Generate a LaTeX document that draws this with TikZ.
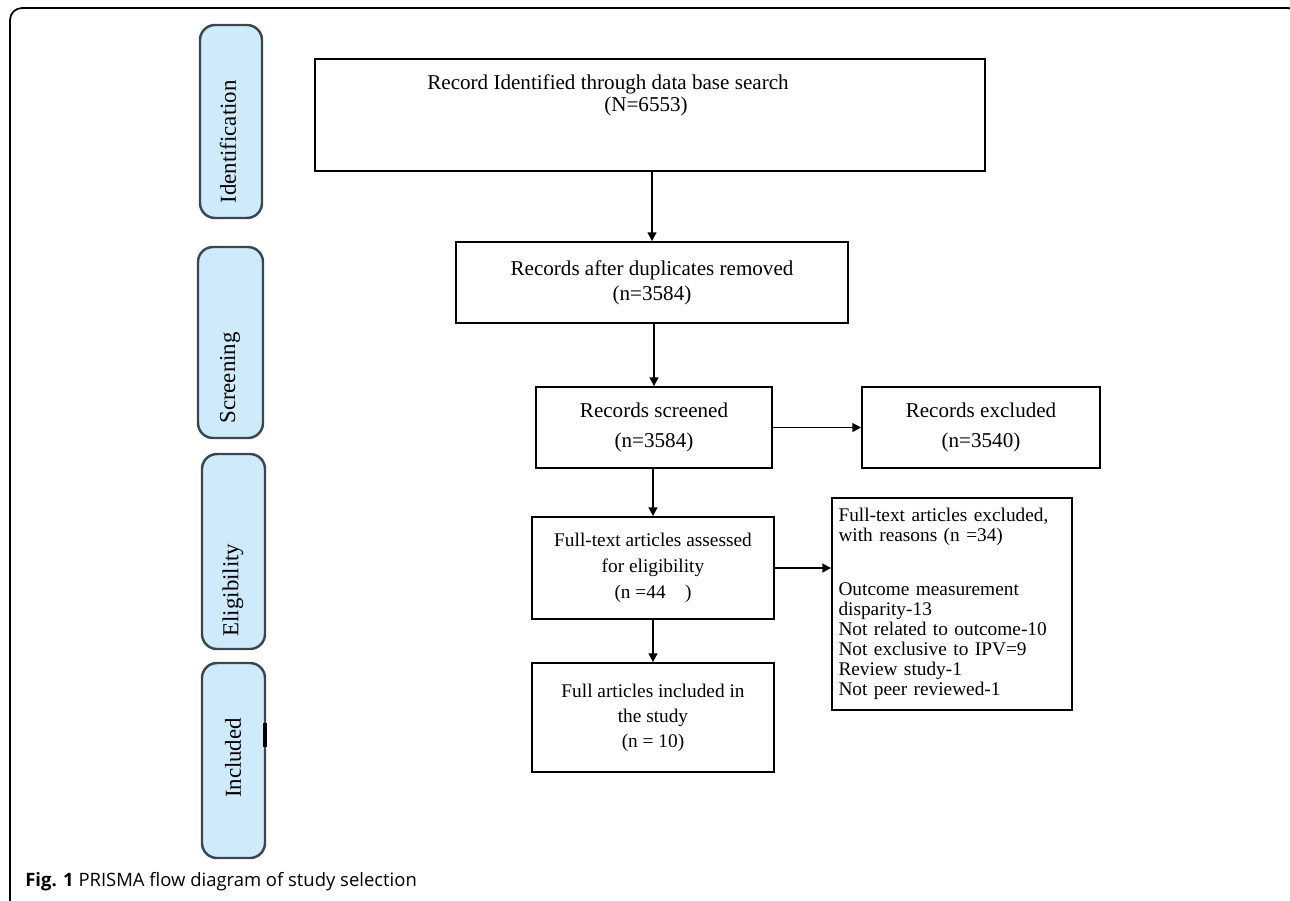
\documentclass[tikz,border=0pt]{standalone}
\usepackage{fontspec}
\setmainfont{Liberation Serif}
\newfontfamily\capfont{Open Sans}
\usetikzlibrary{arrows.meta}

\definecolor{phasefill}{HTML}{CFEAFB}
\definecolor{phaseline}{HTML}{3A4650}

\tikzset{
  phase/.style={draw=phaseline, fill=phasefill, line width=1.4pt, rounded corners=0.3cm, inner sep=0pt},
  phasetext/.style={rotate=90, font=\fontsize{13}{15}\selectfont},
  box/.style={draw, line width=1pt, inner sep=0pt, align=center},
  flow/.style={-{Triangle[length=5pt,width=5pt]}, line width=1pt},
}

\begin{document}
\begin{tikzpicture}
\useasboundingbox (0,0) rectangle (25.8,-18);

% Frame.
\draw[line width=1pt, rounded corners=0.24cm] (0.2,-18.5) -- (0.2,-0.16) -- (26.0,-0.16) -- (26.0,-18.5);

% Phase labels.
\node[phase, minimum width=1.24cm, minimum height=3.86cm] (ident) at (4.62,-2.43) {};
\node[phase, minimum width=1.30cm, minimum height=3.82cm] (screen) at (4.61,-6.85) {};
\node[phase, minimum width=1.26cm, minimum height=3.90cm] (elig) at (4.67,-11.03) {};
\node[phase, minimum width=1.26cm, minimum height=3.90cm] (incl) at (4.67,-15.21) {};

\node[phasetext] (identtxt) at (4.56,-2.84) {Identification};
\node[phasetext] (screentxt) at (4.60,-7.56) {Screening};
\node[phasetext] (eligtxt) at (4.66,-11.80) {Eligibility};
\node[phasetext] (incltxt) at (4.66,-15.16) {Included};

\draw[line width=2pt] (5.30,-14.46) -- (5.30,-14.94);

% Boxes.
\node[box, minimum width=13.4cm, minimum height=2.24cm] (search) at (13.0,-2.3) {};
\node[font=\fontsize{12}{14}\selectfont] (searchA) at (12.16,-1.68) {Record Identified through data base search};
\node[font=\fontsize{12}{14}\selectfont] (searchB) at (12.92,-2.12) {(N=6553)};

\node[box, minimum width=7.84cm, minimum height=1.62cm, font=\fontsize{12}{14.2}\selectfont] (dupl) at (13.04,-5.65)
  {Records after duplicates removed\\(n=3584)};

\node[box, minimum width=4.72cm, minimum height=1.62cm, font=\fontsize{12}{17}\selectfont] (screened) at (13.08,-8.55)
  {Records screened\\(n=3584)};
\node[box, minimum width=4.76cm, minimum height=1.62cm, font=\fontsize{12}{17}\selectfont] (excl) at (19.62,-8.55)
  {Records excluded\\(n=3540)};

\node[box, minimum width=4.84cm, minimum height=2.04cm, font=\fontsize{11}{14.8}\selectfont] (full) at (13.06,-11.36)
  {Full-text articles assessed\\for eligibility\\(n =44\quad)};
\node[box, minimum width=4.80cm, minimum height=4.24cm, text width=4.54cm, align=left,
      font=\fontsize{11}{11.4}\selectfont] (reasons) at (19.04,-12.08)
  {Full-text articles excluded,\\with reasons (n =34)\\[19pt]Outcome measurement\\disparity-13\\Not related to outcome-10\\Not exclusive to IPV=9\\Review study-1\\Not peer reviewed-1};

\node[box, minimum width=4.84cm, minimum height=2.18cm, font=\fontsize{11}{14.2}\selectfont] (incd) at (13.06,-14.35)
  {Full articles included in\\the study\\(n = 10)};

% Arrows.
\draw[flow] (dupl.north |- search.south) -- (dupl.north);
\draw[flow] (screened.north |- dupl.south) -- (screened.north);
\draw[flow] (screened.east) -- (excl.west);
\draw[flow] (full.north |- screened.south) -- (full.north);
\draw[flow] (full.east) -- (full.east -| reasons.west);
\draw[flow] (incd.north |- full.south) -- (incd.north);

% Caption.
\node[anchor=base west, inner sep=0pt, font=\capfont\fontsize{10.5}{12}\selectfont] (caption) at (0.5,-17.72)
  {\textbf{Fig. 1} PRISMA flow diagram of study selection};
\end{tikzpicture}
\end{document}
